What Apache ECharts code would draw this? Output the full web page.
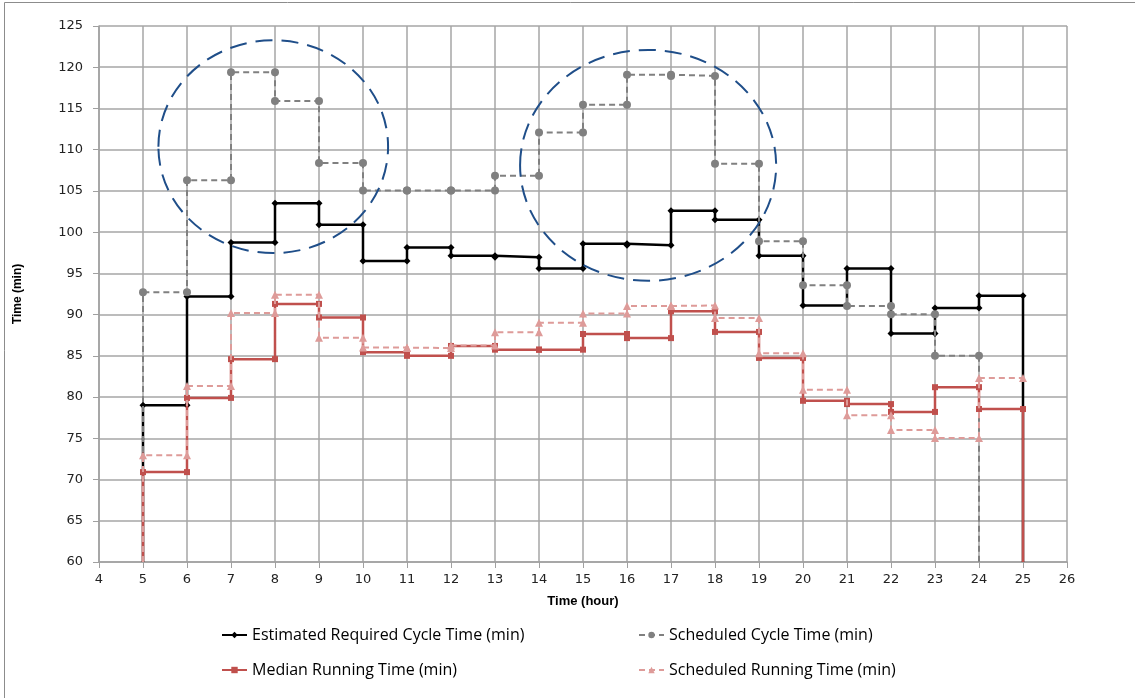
<!DOCTYPE html>
<html><head><meta charset="utf-8">
<script src="https://cdn.jsdelivr.net/npm/echarts@6/dist/echarts.min.js"></script>
<style>html,body{margin:0;padding:0;background:#fff}#c{width:1135px;height:698px}</style>
</head><body><div id="c"></div>
<script>
// ---- data ----
const startHour = 5;
const floorValue = 60;
const xTicks = [4, 26];
const yTicks = [60, 125];
const estimatedRequired = [79.0, 92.2, 98.75, 103.5, 100.9, 96.5, 98.15, 97.15, 96.95, 95.6, 98.6, 98.4, 102.6, 101.5, 97.15, 91.1, 95.6, 87.7, 90.8, 92.3];
const scheduledCycle   = [92.7, 106.3, 119.4, 115.9, 108.4, 105.05, 105.05, 105.05, 106.85, 112.1, 115.45, 119.1, 118.95, 108.3, 98.9, 93.55, 91.05, 90.05, 85.0];
const medianRunning    = [70.9, 79.9, 84.6, 91.3, 89.65, 85.45, 85.0, 86.2, 85.75, 85.75, 87.65, 87.15, 90.4, 87.9, 84.75, 79.55, 79.15, 78.2, 81.2, 78.55];
const scheduledRunning = [72.95, 81.35, 90.2, 92.4, 87.2, 86.0, 85.95, 86.25, 87.85, 89.0, 90.15, 91.05, 91.1, 89.6, 85.3, 80.9, 77.8, 76.0, 75.05, 82.3];
const seriesNames = ['Estimated Required Cycle Time (min)', 'Scheduled Cycle Time (min)', 'Median Running Time (min)', 'Scheduled Running Time (min)'];
// annotation ellipses (data units)
const highlights = [
  {cx: 7.96, cy: 110.36, rx: 2.61, ry: 12.9},
  {cx: 16.48, cy: 108.1, rx: 2.91, ry: 14.0}
];

// build step points
function steps(values, dropEnd) {
  const pts = [{value: [startHour, floorValue], symbol: 'none'}];
  values.forEach((v, i) => {
    pts.push([startHour + i, v]);
    pts.push([startHour + i + 1, v]);
  });
  if (dropEnd) pts.push({value: [startHour + values.length, floorValue], symbol: 'none'});
  return pts;
}

const styles = [
  {color: '#000000', type: 'solid', width: 2.5, symbol: 'diamond', size: 7},
  {color: '#808080', type: [6, 4], width: 2, symbol: 'circle', size: 8},
  {color: '#c0504d', type: 'solid', width: 2.5, symbol: 'rect', size: 6},
  {color: '#de9b99', type: [6, 4], width: 2, symbol: 'triangle', size: 8}
];
const dataSets = [
  steps(estimatedRequired, true),
  steps(scheduledCycle, true),
  steps(medianRunning, true),
  steps(scheduledRunning, false)
];

const chart = echarts.init(document.getElementById('c'), null, {renderer: 'canvas'});
const font = 'DejaVu Sans';
const legendPos = [[221, 627], [638, 627], [221, 662], [638, 662]];

const option = {
  animation: false,
  backgroundColor: '#fff',
  grid: {left: 99, right: 68, top: 26, bottom: 136, containLabel: false},
  xAxis: {
    type: 'value', min: xTicks[0], max: xTicks[1], interval: 1,
    name: 'Time (hour)', nameLocation: 'middle', nameGap: 33,
    nameTextStyle: {fontFamily: 'Liberation Sans', fontWeight: 'bold', fontSize: 13, color: '#000'},
    axisLine: {show: true, lineStyle: {color: '#a0a0a0', width: 1.5}},
    axisTick: {show: true, length: 6, lineStyle: {color: '#a0a0a0'}},
    axisLabel: {fontFamily: font, fontSize: 13, color: '#222', margin: 11},
    splitLine: {show: true, lineStyle: {color: '#a6a6a6', width: 1.5}}
  },
  yAxis: {
    type: 'value', min: yTicks[0], max: yTicks[1], interval: 5,
    name: 'Time (min)', nameLocation: 'middle', nameGap: 75, nameRotate: 90,
    nameTextStyle: {fontFamily: 'Liberation Sans', fontWeight: 'bold', fontSize: 12, color: '#000'},
    axisLine: {show: true, lineStyle: {color: '#a0a0a0', width: 1.5}},
    axisTick: {show: true, length: 6, lineStyle: {color: '#a0a0a0'}},
    axisLabel: {fontFamily: font, fontSize: 13, color: '#222', margin: 16},
    splitLine: {show: true, lineStyle: {color: '#a6a6a6', width: 1.5}}
  },
  legend: seriesNames.map((n, i) => ({
    data: [n], left: legendPos[i][0], top: legendPos[i][1], padding: 0,
    itemWidth: 25, itemHeight: 8, itemGap: 4,
    textStyle: {fontFamily: 'Open Sans', fontSize: 16, color: '#000'}
  })),
  series: seriesNames.map((n, i) => ({
    name: n, type: 'line', data: dataSets[i],
    symbol: styles[i].symbol, symbolSize: styles[i].size, showSymbol: true,
    itemStyle: {color: styles[i].color},
    lineStyle: {color: styles[i].color, width: styles[i].width, type: styles[i].type},
    clip: true, z: 2 + i
  }))
};
chart.setOption(option);

const g = [{
  type: 'rect', silent: true,
  shape: {x: 4.5, y: 2.5, width: 1300, height: 900},
  style: {fill: 'none', stroke: '#8c8c8c', lineWidth: 1}
}];
highlights.forEach(e => {
  const c = chart.convertToPixel({gridIndex: 0}, [e.cx, e.cy]);
  const p = chart.convertToPixel({gridIndex: 0}, [e.cx + e.rx, e.cy + e.ry]);
  g.push({
    type: 'ellipse', silent: true, z: 100,
    shape: {cx: c[0], cy: c[1], rx: p[0] - c[0], ry: c[1] - p[1]},
    style: {fill: 'none', stroke: '#1f4e89', lineWidth: 2, lineDash: [17, 9]}
  });
});
chart.setOption({graphic: g});
</script>
</body></html>
